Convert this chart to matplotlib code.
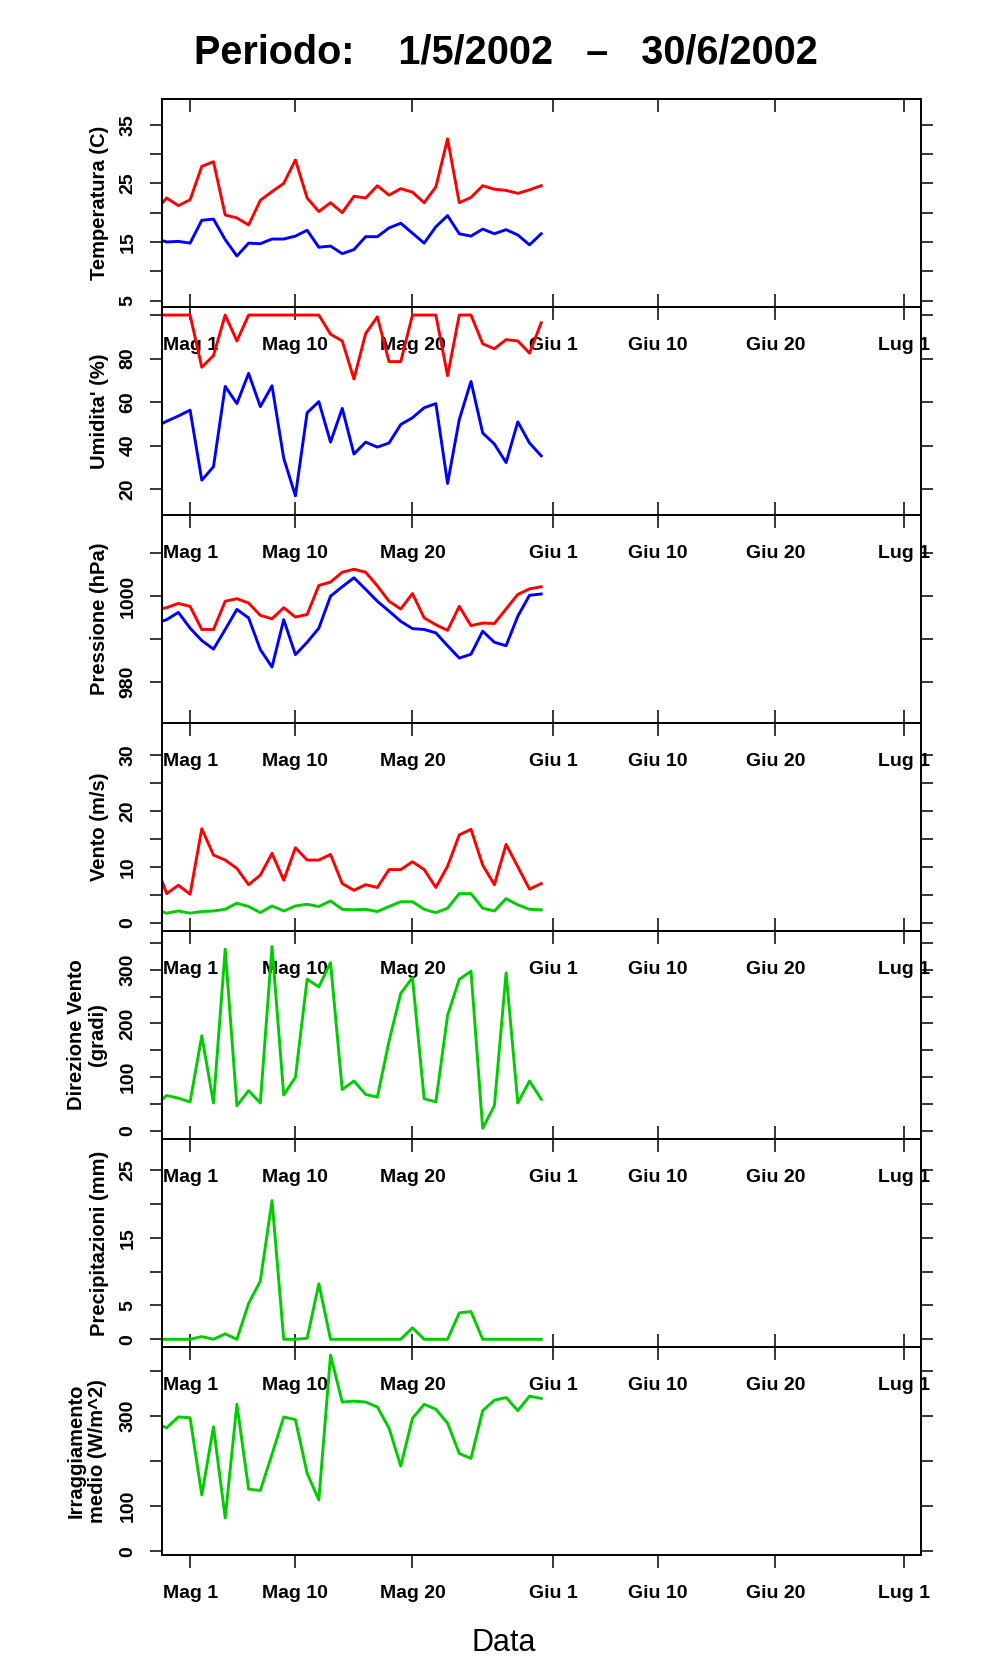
import pandas as pd
import matplotlib
matplotlib.use('Agg')
import matplotlib.pyplot as plt
import matplotlib.dates as mdates
from matplotlib.ticker import FixedLocator, FixedFormatter

plt.rcParams['font.family'] = ['Liberation Sans', 'DejaVu Sans']

# daily values, 28 Apr 2002 -> 31 May 2002
dates = pd.date_range('2002-04-28', '2002-05-31', freq='D')

temp_max = [20.2, 22.5, 21.2, 22.2, 27.9, 28.7, 19.6, 19.1, 17.9, 22.1, 23.6, 25.0,
            29.0, 22.5, 20.2, 21.7, 20.0, 22.8, 22.5, 24.6, 23.0, 24.1, 23.5, 21.7,
            24.4, 32.6, 21.7, 22.6, 24.6, 24.0, 23.8, 23.3, 23.9, 24.6]
temp_min = [15.6, 15.0, 15.1, 14.8, 18.7, 18.9, 15.4, 12.6, 14.8, 14.7, 15.5, 15.5,
            16.0, 17.0, 14.1, 14.3, 13.0, 13.7, 15.9, 15.9, 17.4, 18.2, 16.5, 14.8,
            17.6, 19.5, 16.4, 16.0, 17.2, 16.4, 17.1, 16.2, 14.5, 16.4]

umid_max = [100, 100, 100, 100, 76.0, 81.4, 100, 88.1, 100, 100, 100, 100,
            100, 100, 100, 91.2, 88.1, 70.6, 91.5, 99.2, 78.6, 78.6, 100, 100,
            100, 72.1, 100, 100, 86.8, 84.5, 88.7, 88.1, 82.5, 96.4]
umid_min = [48.4, 51.2, 53.6, 56.3, 24.1, 30.3, 67.2, 59.3, 73.2, 57.9, 67.5, 34.2,
            16.9, 55.1, 60.2, 41.6, 57.1, 36.1, 41.6, 39.3, 41.2, 49.7, 52.8, 57.4,
            59.3, 22.6, 52.0, 69.5, 45.8, 40.7, 32.2, 50.9, 41.2, 35.3]

press_max = [996.8, 997.3, 998.3, 997.6, 992.2, 992.2, 998.8, 999.4, 998.4, 995.5,
             994.7, 997.3, 995.1, 995.7, 1002.5, 1003.3, 1005.6, 1006.3, 1005.6,
             1002.4, 998.8, 997.0, 1000.6, 994.9, 993.3, 992.0, 997.6, 993.1, 993.7,
             993.6, 997.0, 1000.4, 1001.7, 1002.2]
press_min = [993.6, 994.5, 996.2, 992.5, 989.6, 987.6, 992.2, 996.9, 994.9, 987.5,
             983.4, 994.5, 986.3, 989.2, 992.5, 1000.0, 1002.2, 1004.3, 1001.6,
             998.8, 996.5, 994.1, 992.4, 992.2, 991.4, 988.4, 985.5, 986.4, 991.8,
             989.2, 988.4, 995.3, 1000.2, 1000.5]

vento_max = [10.8, 5.2, 6.7, 5.1, 16.8, 12.1, 11.2, 9.7, 6.8, 8.5, 12.4, 7.6,
             13.4, 11.2, 11.2, 12.2, 7.0, 5.8, 6.8, 6.3, 9.5, 9.5, 10.9, 9.5,
             6.3, 10.1, 15.7, 16.7, 10.3, 6.8, 14.0, 10.0, 6.0, 7.0]
vento_med = [2.4, 1.7, 2.1, 1.7, 2.0, 2.1, 2.4, 3.5, 2.9, 1.8, 3.0, 2.1,
             3.0, 3.3, 2.9, 3.9, 2.4, 2.3, 2.4, 2.0, 2.9, 3.75, 3.75, 2.4,
             1.8, 2.6, 5.2, 5.2, 2.6, 2.1, 4.3, 3.2, 2.4, 2.3]

direzione = [47, 66, 61, 54, 177, 52, 338, 47, 75, 52, 343, 67,
             100, 282, 268, 313, 77, 93, 68, 63, 167, 256, 285, 60,
             54, 215, 282, 297, 5, 47, 294, 52, 93, 59]

precip = [0, 0, 0, 0, 0.4, 0, 0.8, 0, 5.3, 8.6, 20.5, 0,
          0, 0.15, 8.2, 0, 0, 0, 0, 0, 0, 0, 1.7, 0,
          0, 0, 3.9, 4.1, 0, 0, 0, 0, 0, 0]

irrag = [283, 274, 298, 296, 125, 276, 74, 326, 138, 135, 215, 298,
         292, 173, 114, 435, 331, 333, 331, 320, 273, 189, 295, 326,
         315, 284, 217, 206, 312, 335, 341, 312, 344, 339]

tick_dates = pd.to_datetime(['2002-05-01', '2002-05-10', '2002-05-20', '2002-06-01',
                             '2002-06-10', '2002-06-20', '2002-07-01'])
tick_labels = ['Mag 1', 'Mag 10', 'Mag 20', 'Giu 1', 'Giu 10', 'Giu 20', 'Lug 1']

RED, BLUE, GREEN = '#ff0000', '#0000ff', '#00cd00'

panels = [
    ('Temperatura (C)', [(temp_max, RED), (temp_min, BLUE)], (3.9, 39.4),
     [5, 10, 15, 20, 25, 30, 35], ['5', '', '15', '', '25', '', '35']),
    ("Umidita' (%)", [(umid_max, RED), (umid_min, BLUE)], (8.1, 103.7),
     [20, 40, 60, 80, 100], ['20', '40', '60', '80', '']),
    ('Pressione (hPa)', [(press_max, RED), (press_min, BLUE)], (970.3, 1019.0),
     [980, 990, 1000, 1010], ['980', '', '1000', '']),
    ('Vento (m/s)', [(vento_max, RED), (vento_med, GREEN)], (-1.48, 35.7),
     [0, 5, 10, 15, 20, 25, 30], ['0', '', '10', '', '20', '', '30']),
    ('Direzione Vento\n(gradi)', [(direzione, GREEN)], (-14.9, 371.8),
     [0, 50, 100, 150, 200, 250, 300, 350], ['0', '', '100', '', '200', '', '300', '']),
    ('Precipitazioni (mm)', [(precip, GREEN)], (-1.14, 29.6),
     [0, 5, 10, 15, 20, 25], ['0', '5', '', '15', '', '25']),
    ('Irraggiamento\nmedio (W/m^2)', [(irrag, GREEN)], (-8, 453),
     [0, 100, 200, 300, 400], ['0', '100', '', '300', '']),
]

W, H = 996, 1680
x = mdates.date2num(dates)
xt = mdates.date2num(tick_dates)
may1 = mdates.date2num(pd.Timestamp('2002-05-01'))

fig = plt.figure(figsize=(W / 100, H / 100), dpi=100, facecolor='white')

left, right, top, ph = 162, 921, 99, 208
for i, (ylab, series, ylim, yt, ytl) in enumerate(panels):
    y0 = top + ph * i
    ax = fig.add_axes([left / W, 1 - (y0 + ph) / H, (right - left) / W, ph / H])
    ax.set_facecolor('none')
    for vals, col in series:
        ax.plot(x, vals, color=col, lw=2.1)
    ax.set_xlim(may1 - 2.4, may1 + 62.45)
    ax.set_ylim(*ylim)
    for s in ax.spines.values():
        s.set_linewidth(1.4)

    # y axis: ticks out on both sides, rotated labels on the left only
    ax.yaxis.set_major_locator(FixedLocator(yt))
    ax.yaxis.set_major_formatter(FixedFormatter(ytl))
    ax.tick_params(axis='y', direction='out', length=8.6, width=1.1, left=True, right=True,
                   labelleft=True, labelright=False, labelsize=14, pad=9.8, labelrotation=90)
    for lab in ax.get_yticklabels():
        lab.set_fontweight('bold')
        lab.set_va('center')

    # x axis: labels of each panel spill into the one below
    ax.xaxis.set_major_locator(FixedLocator(xt))
    ax.xaxis.set_major_formatter(FixedFormatter(tick_labels))
    if i < len(panels) - 1:
        ax.tick_params(axis='x', direction='inout', length=18.7, width=1.1,
                       bottom=True, top=False, labelsize=14, pad=12.2)
    else:
        ax.tick_params(axis='x', direction='out', length=9.4, width=1.1,
                       bottom=True, top=False, labelsize=14, pad=12.2)
    for lab in ax.get_xticklabels():
        lab.set_fontweight('bold')
    if i == 0:
        sec = ax.secondary_xaxis('top')
        sec.xaxis.set_major_locator(FixedLocator(xt))
        sec.tick_params(axis='x', direction='in', length=9.4, width=1.1, labeltop=False)
        sec.spines['top'].set_linewidth(1.4)

    n_lines = ylab.count('\n') + 1
    xlab = 99.7 if n_lines == 1 else 87.2
    fig.text(xlab / W, 1 - (y0 + ph / 2) / H, ylab, rotation=90, ha='center', va='center',
             fontsize=14.5, fontweight='bold', linespacing=1.15, multialignment='center')

fig.text(506 / W, 1 - 63.5 / H, 'Periodo:    1/5/2002   \u2013   30/6/2002',
         ha='center', va='baseline', fontsize=28.5, fontweight='bold')
fig.text(504 / W, 1 - 1650.7 / H, 'Data', ha='center', va='baseline', fontsize=22)

fig.savefig('out.png', dpi=100)
